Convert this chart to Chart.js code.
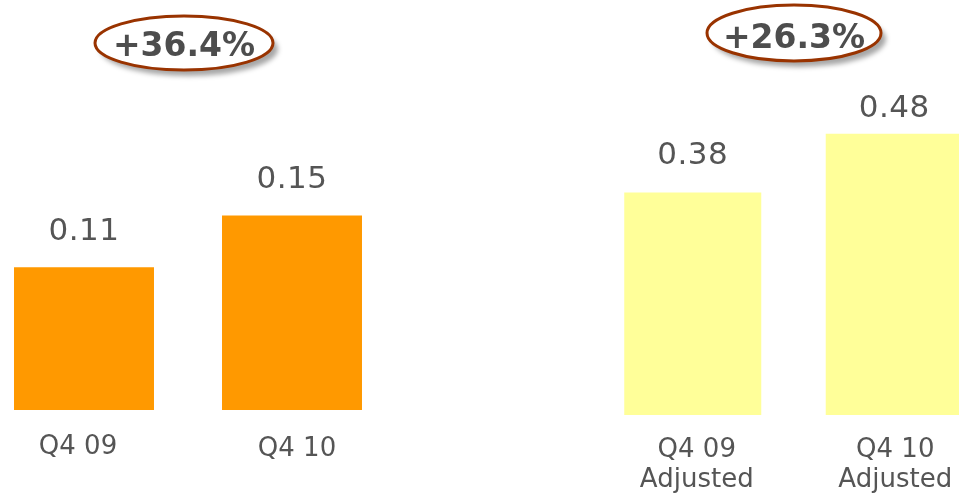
<!DOCTYPE html>
<html><head><meta charset="utf-8">
<script src="https://cdn.jsdelivr.net/npm/chart.js@4.4.0/dist/chart.umd.min.js"></script>
<style>
html,body{margin:0;padding:0;width:959px;height:495px;overflow:hidden;background:#fff;position:relative}
canvas{position:absolute;top:0}
</style></head><body>
<canvas id="c1" width="416" height="495" style="left:-20px;width:416px;height:495px"></canvas>
<canvas id="c2" width="403" height="495" style="left:592px;width:403px;height:495px"></canvas>
<script>
const reportedCategories = [["Q4 09"], ["Q4 10"]];
const reportedValues = [0.11, 0.15];
const reportedGrowth = "+36.4%";
const adjustedCategories = [["Q4 09", "Adjusted"], ["Q4 10", "Adjusted"]];
const adjustedValues = [0.38, 0.48];
const adjustedGrowth = "+26.3%";

const annot = {
  id: 'annot',
  afterDatasetsDraw(chart, args, o) {
    const ctx = chart.ctx;
    const meta = chart.getDatasetMeta(0);
    const vals = chart.data.datasets[0].data;
    ctx.save();
    ctx.fillStyle = '#555555';
    ctx.textAlign = 'center';
    ctx.textBaseline = 'alphabetic';
    ctx.font = '31px "DejaVu Sans"';
    ctx.letterSpacing = '0.5px';
    meta.data.forEach((bar, i) => {
      ctx.fillText(vals[i].toFixed(2), bar.x, bar.y - o.valueGap[i]);
    });
    ctx.font = '26px "DejaVu Sans"';
    ctx.letterSpacing = '0px';
    meta.data.forEach((bar, i) => {
      chart.data.labels[i].forEach((line, j) => {
        ctx.fillText(line, bar.x + o.labelDx[i], o.labelBase[i] + j * 30);
      });
    });
    // oval callout
    ctx.beginPath();
    ctx.ellipse(o.ovalX, o.ovalY, o.rx, o.ry, 0, 0, Math.PI * 2);
    ctx.shadowColor = 'rgba(0,0,0,0.35)';
    ctx.shadowOffsetX = 5;
    ctx.shadowOffsetY = 6;
    ctx.shadowBlur = 5;
    ctx.fillStyle = '#ffffff';
    ctx.fill();
    ctx.shadowColor = 'transparent';
    ctx.lineWidth = 3;
    ctx.strokeStyle = '#993300';
    ctx.stroke();
    ctx.fillStyle = '#4d4d4d';
    ctx.font = 'bold 33px "DejaVu Sans"';
    ctx.letterSpacing = '0px';
    ctx.fillText(o.growth, o.ovalX, o.textBase);
    ctx.restore();
  }
};

function makeChart(id, labels, values, color, max, padTop, padBottom, barPct, annotOpts) {
  return new Chart(document.getElementById(id), {
    type: 'bar',
    data: {
      labels: labels,
      datasets: [{
        data: values,
        backgroundColor: color,
        borderWidth: 0,
        barPercentage: barPct,
        categoryPercentage: 1
      }]
    },
    options: {
      responsive: false,
      animation: false,
      layout: { padding: { top: padTop, bottom: padBottom, left: 0, right: 0 } },
      plugins: { legend: { display: false }, tooltip: { enabled: false }, annot: annotOpts },
      scales: {
        x: { display: false },
        y: { display: false, min: 0, max: max }
      }
    },
    plugins: [annot]
  });
}

makeChart('c1', reportedCategories, reportedValues, '#FF9900', 0.3, 21, 85, 0.673, {
  valueGap: [27, 28],
  labelBase: [454, 456],
  labelDx: [-6, 5],
  ovalX: 204, ovalY: 43, rx: 89, ry: 27,
  textBase: 56,
  growth: reportedGrowth
});

makeChart('c2', adjustedCategories, adjustedValues, '#FFFF99', 0.7, 5, 80, 0.68, {
  valueGap: [28, 17],
  labelBase: [457, 457],
  labelDx: [4, 1],
  ovalX: 202, ovalY: 33, rx: 87, ry: 28,
  textBase: 48,
  growth: adjustedGrowth
});
</script>
</body></html>
